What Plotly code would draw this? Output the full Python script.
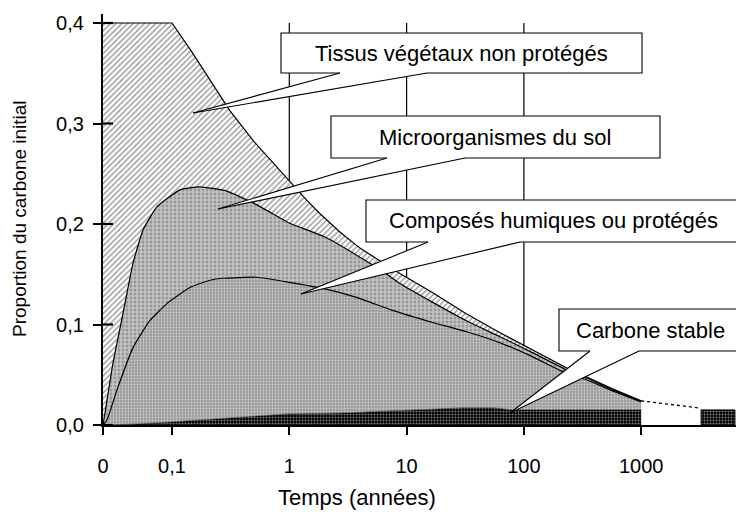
import numpy as np
import plotly.graph_objects as go

# ---------------- data (time in years, proportion of initial carbon) ----------------
t_tissus = [0, 0.1, 0.15, 0.2, 0.31, 0.5, 0.75, 1, 1.4, 1.8, 2.7, 4, 6.8, 8.7, 17, 32, 62, 105,
            230, 340, 570, 1000]
v_tissus = [0.4, 0.4, 0.37, 0.347, 0.313, 0.282, 0.259, 0.242, 0.224, 0.211, 0.192, 0.176,
            0.159, 0.151, 0.131, 0.111, 0.092, 0.078, 0.057, 0.048, 0.036, 0.024]

t_micro = [0, 0.0029, 0.0145, 0.029, 0.0435, 0.058, 0.078, 0.117, 0.173, 0.29, 0.51, 0.78,
           1.0, 2.02, 3.75, 6.25, 8.7, 16.7, 32, 62, 118, 230, 340, 570, 1000]
v_micro = [0, 0.012, 0.062, 0.111, 0.161, 0.194, 0.217, 0.234, 0.237, 0.233, 0.220, 0.208,
           0.201, 0.187, 0.169, 0.153, 0.141, 0.122, 0.104, 0.088, 0.072, 0.055, 0.047, 0.035,
           0.0235]

t_humic = [0, 0.0058, 0.0203, 0.0435, 0.068, 0.093, 0.143, 0.211, 0.27, 0.53, 1.0, 1.93, 3.75,
           7.6, 16.7, 32, 62, 118, 215, 340, 570, 1000]
v_humic = [0, 0.005, 0.035, 0.077, 0.104, 0.121, 0.137, 0.144, 0.146, 0.147, 0.142, 0.136,
           0.127, 0.114, 0.102, 0.093, 0.082, 0.068, 0.053, 0.045, 0.034, 0.023]

t_stable = [0, 0.05, 0.1, 0.3, 1, 3, 8, 16, 30, 55, 80, 1000]
v_stable = [0, 0.001, 0.003, 0.007, 0.011, 0.012, 0.014, 0.015, 0.017, 0.017, 0.015, 0.015]

t_fade = [1000, 3100]          # dotted continuation after 1000 years
v_fade = [0.024, 0.017]

t_block = [3240, 3240, 6300, 6300]   # long-term stable carbon block
v_block = [0, 0.015, 0.015, 0]

tick_t = [0, 0.1, 1, 10, 100, 1000]
tick_text = ["0", "0,1", "1", "10", "100", "1000"]
ytick_v = [0, 0.1, 0.2, 0.3, 0.4]
ytick_text = ["0,0", "0,1", "0,2", "0,3", "0,4"]
grid_t = [1, 10, 100]

labels = ["Tissus végétaux non protégés", "Microorganismes du sol",
          "Composés humiques ou protégés", "Carbone stable"]

# ---------------- pseudo-log time scale ----------------
S0 = 69 / 117.3  # width of the 0–0.1 linear segment, in decades


def to_u(t):
    a = np.asarray(t, dtype=float)
    lin = a / 0.1 * S0
    lg = S0 + np.log10(np.maximum(a, 1e-12) / 0.1)
    return np.where(a <= 0.1, lin, lg)


FONT = "Liberation Sans"
OFF = 8                      # page body margin
W, H = 744 - OFF, 515 - OFF
ML, MR, MT = 103 - OFF, 0, 14 - OFF
MB = H - (425 - OFF)
PW, PH = W - ML - MR, H - MT - MB
XMAX = PW / 117.3
YMAX = 0.4 * PH / 402


def px(x):
    return (x - OFF - ML) / PW


def py(y):
    return (H - MB - (y - OFF)) / PH


fig = go.Figure()

curve_line = dict(color="black", width=1.2, shape="spline", smoothing=0.4)

fig.add_trace(go.Scatter(x=to_u(t_stable), y=v_stable, mode="lines", fill="tozeroy",
                         fillpattern=dict(shape=".", fgcolor="white", bgcolor="black",
                                          size=3, solidity=0.35),
                         line=dict(color="black", width=0.5),
                         hoverinfo="skip", showlegend=False))
fig.add_trace(go.Scatter(x=to_u(t_humic), y=v_humic, mode="lines", fill="tonexty",
                         fillpattern=dict(shape=".", fgcolor="white", bgcolor="#9c9c9c",
                                          size=3, solidity=0.3),
                         line=curve_line, hoverinfo="skip", showlegend=False))
fig.add_trace(go.Scatter(x=to_u(t_micro), y=v_micro, mode="lines", fill="tonexty",
                         fillpattern=dict(shape=".", fgcolor="white", bgcolor="#858585",
                                          size=4, solidity=0.72),
                         line=curve_line, hoverinfo="skip", showlegend=False))
fig.add_trace(go.Scatter(x=to_u(t_tissus), y=v_tissus, mode="lines", fill="tonexty",
                         fillpattern=dict(shape="/", fgcolor="#222222", bgcolor="white",
                                          size=4, solidity=0.33),
                         line=dict(color="black", width=1.2),
                         hoverinfo="skip", showlegend=False))
fig.add_trace(go.Scatter(x=to_u(t_fade), y=v_fade, mode="lines",
                         line=dict(color="black", width=1.3, dash="dot"),
                         hoverinfo="skip", showlegend=False))
fig.add_trace(go.Scatter(x=to_u(t_block), y=v_block, mode="lines", fill="toself",
                         fillpattern=dict(shape=".", fgcolor="white", bgcolor="black",
                                          size=3, solidity=0.35),
                         line=dict(color="black", width=1),
                         hoverinfo="skip", showlegend=False))

shapes = []
# vertical reference lines at 1, 10, 100 years
for g in grid_t:
    gu = float(to_u([g])[0])
    shapes.append(dict(type="line", xref="x", yref="y", x0=gu, x1=gu, y0=0, y1=0.4,
                       line=dict(color="black", width=1.2), layer="below"))
# inner half of the y ticks
for v in ytick_v:
    shapes.append(dict(type="line", xref="paper", yref="y", x0=0, x1=px(113), y0=v, y1=v,
                       line=dict(color="black", width=2.2), layer="above"))

# callouts: box (x0, y0, x1, y1) in reference pixels, wedge base xs, tip
callouts = [
    ((281, 33, 642, 73), (340, 427), (193, 113)),
    ((331, 116, 660, 158), (387, 465), (218, 209)),
    ((366, 200, 741, 242), (428, 520), (301, 294)),
    ((559, 309, 742, 351), (590, 639), (510, 413)),
]
annotations = []
for (box, base, tip), text in zip(callouts, labels):
    x0, y0, x1, y1 = box
    shapes.append(dict(type="rect", xref="paper", yref="paper", x0=px(x0), x1=px(x1),
                       y0=py(y1), y1=py(y0), fillcolor="white",
                       line=dict(color="black", width=1.1), layer="above"))
    bx1, bx2 = base
    tx, ty = tip
    path = (f"M {px(bx1)},{py(y1 - 2)} L {px(bx1)},{py(y1)} L {px(tx)},{py(ty)} "
            f"L {px(bx2)},{py(y1)} L {px(bx2)},{py(y1 - 2)} Z")
    shapes.append(dict(type="path", xref="paper", yref="paper", path=path,
                       fillcolor="white", line=dict(width=0), layer="above"))
    for bx in (bx1, bx2):
        shapes.append(dict(type="line", xref="paper", yref="paper", x0=px(bx), y0=py(y1),
                           x1=px(tx), y1=py(ty), line=dict(color="black", width=1.1),
                           layer="above"))
    annotations.append(dict(text=text, xref="paper", yref="paper", x=px((x0 + x1) / 2),
                            y=py((y0 + y1) / 2), showarrow=False,
                            font=dict(family=FONT, size=22, color="black"),
                            xanchor="center", yanchor="middle"))

annotations.append(dict(text="Temps (années)", xref="paper", yref="paper", x=px(357), y=py(497),
                        showarrow=False, font=dict(family=FONT, size=22, color="black"),
                        xanchor="center", yanchor="middle"))
annotations.append(dict(text="Proportion du carbone initial", xref="paper", yref="paper",
                        x=px(20), y=py(218), showarrow=False, textangle=-90,
                        font=dict(family=FONT, size=19, color="black"),
                        xanchor="center", yanchor="middle"))

fig.update_layout(
    width=W, height=H,
    margin=dict(l=ML, r=MR, t=MT, b=MB),
    paper_bgcolor="white", plot_bgcolor="white",
    shapes=shapes, annotations=annotations,
    xaxis=dict(range=[0, XMAX], tickmode="array", tickvals=to_u(tick_t).tolist(),
               ticktext=tick_text, showgrid=False, zeroline=False, showline=True,
               linecolor="black", linewidth=2, ticks="outside", ticklen=8, tickwidth=2.2,
               tickcolor="black", tickfont=dict(family=FONT, size=20, color="black"),
               ticklabelstandoff=14, fixedrange=True),
    yaxis=dict(range=[0, YMAX], tickmode="array", tickvals=ytick_v, ticktext=ytick_text,
               showgrid=False, zeroline=False, showline=True, linecolor="black", linewidth=2.2,
               ticks="outside", ticklen=8, tickwidth=2.2, tickcolor="black",
               tickfont=dict(family=FONT, size=20, color="black"), ticklabelstandoff=5,
               fixedrange=True),
)

fig.write_html("out.html")
